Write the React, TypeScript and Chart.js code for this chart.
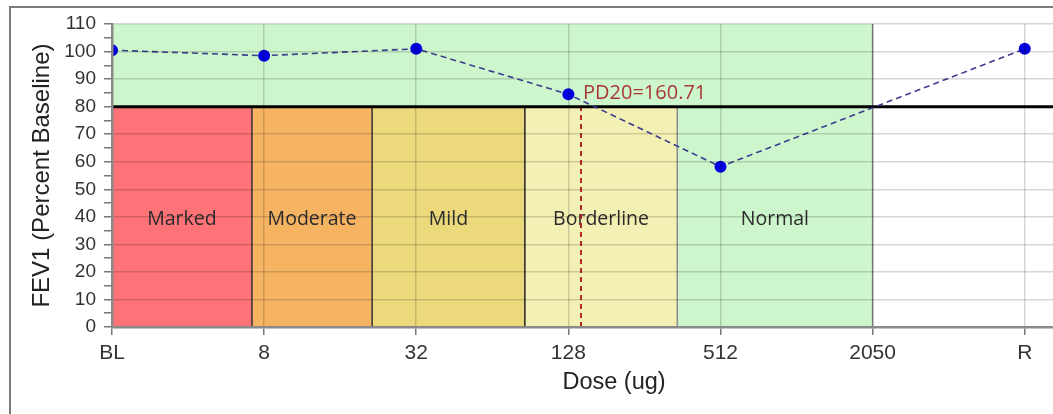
import React, { useEffect, useRef } from "react";
import { Chart, registerables } from "chart.js";

Chart.register(...registerables);

// ---- data ----
const doseLabels = ["BL", "8", "32", "128", "512", "2050", "R"];
const measuredDoseIndex = [0, 1, 2, 3, 4, 6];
const fev1Values = [100.5, 98.5, 101, 84.5, 58.2, 101];

const bandNames = ["Marked", "Moderate", "Mild", "Borderline", "Normal"];
const bandStarts = [0, 0.92, 1.71, 2.714, 3.716];
const bandEnds = [0.92, 1.71, 2.714, 3.716, 5];
const bandColors = ["#fd7377", "#f6b463", "#ebd97c", "#f3f0b3", "#cdf6cd"];
const bandLeftEdges = ["transparent", "#333333", "#333333", "#222222", "#8c8c8c"];
const bandRightEdges = ["transparent", "transparent", "transparent", "transparent", "#8c8c8c"];
const bandTop = 80;
const bandLabelY = 39;

const normalZoneTop = 110;
const normalZoneEnd = 5;

const thresholdValue = 80;
const pd20Position = 3.083;
const pd20Label = "PD20=160.71";
const pd20LabelY = 85;

const yMin = 0;
const yMax = 110;
const yStep = 5;
const xMin = 0;
const xMax = 6.6;

export default function App() {
  const ref = useRef<HTMLCanvasElement>(null);

  useEffect(() => {
    const canvas = ref.current;
    if (!canvas) return;

    const bandDatasets = bandNames.map((name, i) => ({
      type: "line" as const,
      label: name,
      data: [
        { x: bandStarts[i], y: 0 },
        { x: bandStarts[i], y: bandTop },
        { x: bandEnds[i], y: bandTop },
        { x: bandEnds[i], y: 0 },
      ],
      backgroundColor: bandColors[i],
      borderColor: "transparent",
      borderWidth: 1.5,
      fill: "origin",
      pointRadius: 0,
      tension: 0,
      order: 10 - i,
      segment: {
        borderColor: (ctx: any) =>
          ctx.p0DataIndex === 0
            ? bandLeftEdges[i]
            : ctx.p0DataIndex === 2
            ? bandRightEdges[i]
            : "transparent",
      },
    }));

    const labelPlugin = {
      id: "bandLabels",
      afterDatasetDraw(chart: any, args: any) {
        if (chart.data.datasets[args.index].label !== "NormalZone") return;
        const { ctx, scales } = chart;
        const x = scales.x;
        const y = scales.y;
        ctx.save();
        ctx.font = '19.5px "Open Sans"';
        ctx.fillStyle = "#2b2b2b";
        ctx.textAlign = "center";
        ctx.textBaseline = "middle";
        bandNames.forEach((n, i) => {
          ctx.fillText(
            n,
            x.getPixelForValue((bandStarts[i] + bandEnds[i]) / 2),
            y.getPixelForValue(bandLabelY)
          );
        });
        ctx.restore();
      },
      afterDatasetsDraw(chart: any) {
        const { ctx, scales } = chart;
        ctx.save();
        ctx.font = '20px "Open Sans"';
        ctx.fillStyle = "#a83838";
        ctx.textAlign = "left";
        ctx.textBaseline = "middle";
        ctx.fillText(
          pd20Label,
          scales.x.getPixelForValue(pd20Position) + 2,
          scales.y.getPixelForValue(pd20LabelY)
        );
        ctx.restore();
      },
    };

    const chart = new Chart(canvas, {
      type: "line",
      data: {
        datasets: [
          {
            label: "FEV1",
            data: measuredDoseIndex.map((xi, i) => ({ x: xi, y: fev1Values[i] })),
            borderColor: "#3d3d8f",
            borderWidth: 1.6,
            borderDash: [6, 4],
            pointRadius: 6,
            pointBackgroundColor: "#0000e0",
            pointBorderWidth: 0,
            fill: false,
            order: 0,
            clip: 0,
          } as any,
          {
            label: "Threshold",
            data: [
              { x: xMin, y: thresholdValue },
              { x: xMax, y: thresholdValue },
            ],
            borderColor: "#000000",
            borderWidth: 3,
            pointRadius: 0,
            fill: false,
            order: 1,
          },
          {
            label: "PD20",
            data: [
              { x: pd20Position, y: 0 },
              { x: pd20Position, y: thresholdValue },
            ],
            borderColor: "#b52a2a",
            borderWidth: 2,
            borderDash: [5, 4],
            pointRadius: 0,
            fill: false,
            order: 2,
          },
          {
            label: "NormalZone",
            data: [
              { x: xMin, y: normalZoneTop },
              { x: normalZoneEnd, y: normalZoneTop },
              { x: normalZoneEnd, y: thresholdValue },
            ],
            backgroundColor: bandColors[4],
            borderColor: "transparent",
            borderWidth: 1.5,
            fill: { value: thresholdValue },
            pointRadius: 0,
            order: 4,
            segment: {
              borderColor: (ctx: any) => (ctx.p0DataIndex === 1 ? "#8c8c8c" : "transparent"),
            },
          } as any,
          ...(bandDatasets as any[]),
        ],
      },
      options: {
        animation: false,
        responsive: false,
        maintainAspectRatio: false,
        events: [],
        layout: { padding: { top: 24, left: 0, right: 0, bottom: 0 } },
        plugins: {
          legend: { display: false },
          tooltip: { enabled: false },
        },
        scales: {
          x: {
            type: "linear",
            min: xMin,
            max: xMax,
            afterBuildTicks: (scale: any) => {
              scale.ticks = doseLabels.map((_, i) => ({ value: i }));
            },
            afterFit: (scale: any) => {
              scale.height = 87;
            },
            ticks: {
              autoSkip: false,
              maxRotation: 0,
              padding: 6,
              color: "#333333",
              font: { family: "Liberation Sans", size: 21 },
              callback: (v: any) => doseLabels[Math.round(Number(v))] ?? "",
            },
            grid: {
              z: 1,
              color: "rgba(0,0,0,0.16)",
              lineWidth: 1.5,
              tickColor: "#777777",
              tickLength: 8,
              drawTicks: true,
            },
            border: { display: true, color: "#8a8a8a", width: 2.5, z: 2 },
            title: {
              display: true,
              text: "Dose (ug)",
              color: "#222222",
              font: { family: "Liberation Sans", size: 23.5 },
              padding: { top: 0, bottom: 17 },
            },
          },
          y: {
            type: "linear",
            min: yMin,
            max: yMax,
            afterFit: (scale: any) => {
              scale.width = 112;
            },
            ticks: {
              stepSize: yStep,
              autoSkip: false,
              padding: 8,
              color: "#333333",
              font: { family: "Liberation Sans", size: 19 },
              callback: (v: any) => (Number(v) % 10 === 0 ? String(v) : ""),
            },
            grid: {
              z: 1,
              color: (ctx: any) =>
                ctx.tick && ctx.tick.value % 10 === 0 ? "rgba(0,0,0,0.16)" : "transparent",
              lineWidth: 1.5,
              tickColor: "#777777",
              tickLength: 8,
              drawTicks: true,
            },
            border: { display: true, color: "#8a8a8a", width: 2.5, z: 2 },
            title: {
              display: true,
              text: "FEV1 (Percent Baseline)",
              color: "#222222",
              font: { family: "Liberation Sans", size: 24 },
              padding: { top: 28, bottom: 0 },
            },
          },
        },
      },
      plugins: [labelPlugin],
    } as any);

    return () => chart.destroy();
  }, []);

  return (
    <div
      style={{
        position: "fixed",
        left: 0,
        top: 0,
        width: 1053,
        height: 414,
        overflow: "hidden",
        background: "#ffffff",
      }}
    >
      <div
        style={{
          position: "absolute",
          left: 9,
          top: 6,
          width: 2000,
          height: 1000,
          border: "2px solid #7c7c7c",
        }}
      />
      <canvas
        ref={ref}
        width={1122}
        height={414}
        style={{ position: "absolute", left: 0, top: 0, width: 1122, height: 414 }}
      />
    </div>
  );
}
